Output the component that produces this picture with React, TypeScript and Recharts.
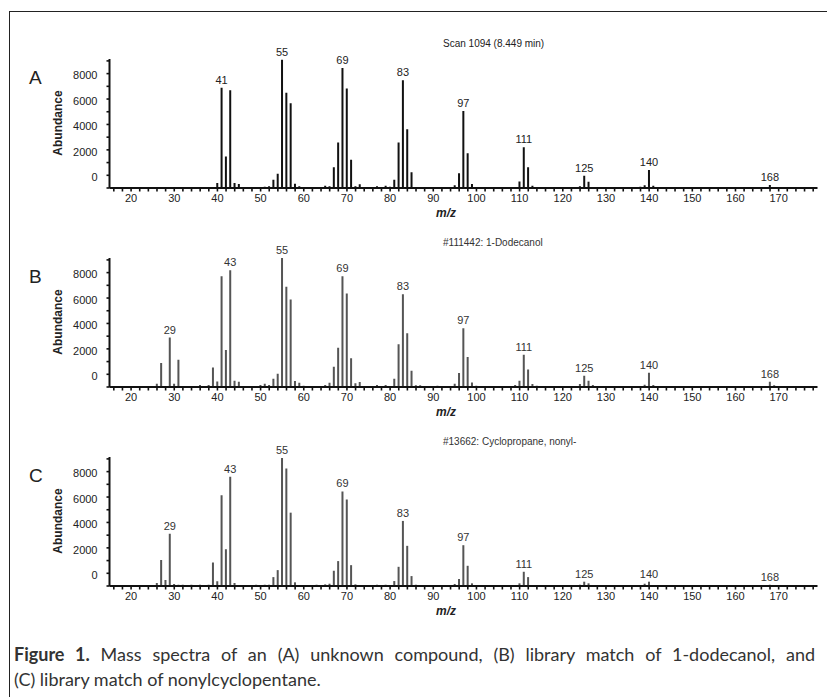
import React from 'react';
import { BarChart, Bar, XAxis, YAxis, LabelList } from 'recharts';

// Panel A: unknown compound (Scan 1094)
const mzA = [40, 41, 42, 43, 44, 45, 51, 52, 53, 54, 55, 56, 57, 58, 59, 65, 66, 67, 68, 69, 70, 71, 72, 73, 74, 77, 78, 79, 80, 81, 82, 83, 84, 85, 86, 87, 91, 93, 94, 95, 96, 97, 98, 99, 100, 109, 110, 111, 112, 113, 124, 125, 126, 127, 128, 138, 139, 140, 141, 168, 169];
const abA = [390, 7880, 2480, 7700, 390, 310, 100, 130, 650, 1120, 10100, 7490, 6660, 340, 130, 180, 130, 1640, 3580, 9450, 7830, 2220, 130, 290, 80, 130, 80, 180, 100, 650, 3580, 8480, 4620, 1230, 80, 80, 60, 80, 60, 210, 1170, 6060, 2740, 310, 80, 80, 520, 3210, 1640, 180, 130, 970, 500, 80, 60, 100, 210, 1410, 180, 235, 80];
const peaksA = [41, 55, 69, 83, 97, 111, 125, 140, 168];

// Panel B: 1-dodecanol library spectrum
const mzB = [26, 27, 29, 30, 31, 36, 38, 39, 40, 41, 42, 43, 44, 45, 50, 51, 52, 53, 54, 55, 56, 57, 58, 59, 60, 65, 66, 67, 68, 69, 70, 71, 72, 73, 77, 79, 81, 82, 83, 84, 85, 86, 87, 91, 95, 96, 97, 98, 99, 100, 109, 110, 111, 112, 113, 114, 124, 125, 126, 127, 139, 140, 141, 168, 169];
const abB = [260, 1880, 3890, 260, 2140, 150, 150, 1540, 440, 8720, 2920, 9190, 500, 420, 150, 260, 150, 650, 1040, 10150, 7880, 6890, 470, 340, 100, 150, 340, 1590, 3080, 8720, 7360, 2270, 290, 390, 150, 150, 650, 3370, 7300, 4230, 1280, 130, 130, 100, 260, 1100, 4620, 2370, 360, 100, 150, 490, 2530, 1380, 230, 100, 230, 890, 490, 150, 180, 1120, 150, 420, 130];
const peaksB = [29, 43, 55, 69, 83, 97, 111, 125, 140, 168];

// Panel C: nonyl-cyclopropane library spectrum
const mzC = [26, 27, 28, 29, 30, 31, 32, 33, 34, 35, 36, 37, 38, 39, 40, 41, 42, 43, 44, 48, 49, 50, 51, 52, 53, 54, 55, 56, 57, 58, 62, 63, 64, 65, 66, 67, 68, 69, 70, 71, 72, 77, 79, 81, 82, 83, 84, 85, 86, 91, 95, 96, 97, 98, 99, 110, 111, 112, 113, 124, 125, 126, 127, 139, 140, 141, 168, 169];
const abC = [230, 2040, 470, 4120, 160, 100, 100, 80, 100, 80, 100, 80, 100, 1850, 370, 7150, 2900, 8590, 230, 80, 100, 80, 100, 100, 700, 1250, 10070, 9240, 5770, 290, 80, 100, 80, 130, 180, 1200, 1960, 7440, 6810, 1640, 130, 100, 100, 390, 1510, 5120, 3160, 780, 100, 80, 160, 550, 3210, 1590, 210, 210, 1120, 700, 80, 100, 340, 210, 80, 180, 340, 80, 100, 60];
const peaksC = [29, 43, 55, 69, 83, 97, 111, 125, 140, 168];

const yLabels = [0, 2000, 4000, 6000, 8000];
const xLabels = [20, 30, 40, 50, 60, 70, 80, 90, 100, 110, 120, 130, 140, 150, 160, 170];

const yTicks: number[] = [];
for (let v = 0; v <= 10000; v += 1000) yTicks.push(v);
const xTicks: number[] = [];
for (let v = 16; v <= 178; v += 2) xTicks.push(v);

const FONT = 'Liberation Sans, Arial, sans-serif';
const CAPTION_FONT = 'Lato, "Open Sans", sans-serif';

const XTick = (props: any) => {
  const { x, y, payload } = props;
  const v = payload.value;
  return (
    <g>
      <line x1={x} x2={x} y1={y} y2={y + 3.5} stroke="#111" strokeWidth={1.6} />
      {xLabels.includes(v) && (
        <text x={x} y={y + 13.5} textAnchor="middle" fontSize={11} fill="#222" fontFamily={FONT}>
          {v}
        </text>
      )}
    </g>
  );
};

const YTick = (props: any) => {
  const { x, y, payload } = props;
  const v = payload.value;
  return (
    <g>
      <line x1={x - 3} x2={x} y1={y} y2={y} stroke="#111" strokeWidth={1.6} />
      {yLabels.includes(v) && (
        <text x={x - 12} y={y - 7} textAnchor="end" fontSize={11} fill="#222" fontFamily={FONT}>
          {v}
        </text>
      )}
    </g>
  );
};

interface PanelProps {
  top: number;
  letter: string;
  title: string;
  mz: number[];
  ab: number[];
  peaks: number[];
  color: string;
  textColor: string;
}

const Panel: React.FC<PanelProps> = ({ top, letter, title, mz, ab, peaks, color, textColor }) => {
  const data = mz.map((m, i) => ({ mz: m, ab: ab[i], label: peaks.includes(m) ? String(m) : '' }));
  const plotTop = top + 20;
  return (
    <>
      <div style={{ position: 'absolute', left: 0, top }}>
        <BarChart width={827} height={189} data={data} margin={{ top: 20, right: 9.5, bottom: 10, left: 49.5 }}>
          <XAxis
            dataKey="mz"
            type="number"
            domain={[15, 179]}
            ticks={xTicks}
            interval={0}
            tickSize={0}
            tickMargin={0}
            tickLine={false}
            tick={<XTick />}
            height={30}
            axisLine={{ stroke: '#111', strokeWidth: 2 }}
            allowDataOverflow
          />
          <YAxis
            type="number"
            domain={[0, 10150]}
            ticks={yTicks}
            interval={0}
            tickSize={0}
            tickMargin={0}
            tickLine={false}
            tick={<YTick />}
            width={60}
            axisLine={{ stroke: '#111', strokeWidth: 2 }}
            allowDataOverflow
          />
          <Bar dataKey="ab" fill={color} barSize={2} isAnimationActive={false}>
            <LabelList dataKey="label" position="top" offset={4} fontSize={11} fill={textColor} fontFamily={FONT} />
          </Bar>
        </BarChart>
      </div>
      <div style={{ position: 'absolute', left: 29, top: plotTop + 8, fontSize: 19, fontFamily: FONT, color: '#222', lineHeight: '22px' }}>
        {letter}
      </div>
      <div style={{ position: 'absolute', left: 443, top: plotTop - 21, fontSize: 10, fontFamily: FONT, color: textColor, whiteSpace: 'nowrap' }}>
        {title}
      </div>
      <div
        style={{
          position: 'absolute',
          left: 58 - 40,
          top: plotTop + 64 - 8,
          width: 80,
          height: 16,
          lineHeight: '16px',
          textAlign: 'center',
          transform: 'rotate(-90deg)',
          fontSize: 12,
          fontWeight: 'bold',
          fontFamily: FONT,
          color: '#222',
        }}
      >
        Abundance
      </div>
      <div
        style={{
          position: 'absolute',
          left: 436,
          top: plotTop + 129 + 18,
          fontSize: 12,
          fontWeight: 'bold',
          fontStyle: 'italic',
          fontFamily: FONT,
          color: '#222',
        }}
      >
        m/z
      </div>
    </>
  );
};

const App: React.FC = () => {
  const captionLine: React.CSSProperties = {
    position: 'absolute',
    left: 14,
    width: 801,
    fontSize: 18,
    lineHeight: '25px',
    fontFamily: CAPTION_FONT,
    color: '#333',
    whiteSpace: 'nowrap',
  };
  return (
    <div style={{ position: 'absolute', left: 0, top: 0, width: 827, height: 697, overflow: 'hidden', background: '#fff' }}>
      <div style={{ position: 'absolute', left: 9, top: 11, width: 900, height: 800, border: '1.5px solid #222' }} />
      <Panel top={39} letter="A" title="Scan 1094 (8.449 min)" mz={mzA} ab={abA} peaks={peaksA} color="#111" textColor="#222" />
      <Panel top={238} letter="B" title="#111442: 1-Dodecanol" mz={mzB} ab={abB} peaks={peaksB} color="#555" textColor="#333" />
      <Panel top={437} letter="C" title="#13662: Cyclopropane, nonyl-" mz={mzC} ab={abC} peaks={peaksC} color="#555" textColor="#333" />
      <div style={{ ...captionLine, top: 642, whiteSpace: 'normal', textAlign: 'justify', textAlignLast: 'justify' }}>
        <b>Figure 1.</b> Mass spectra of an (A) unknown compound, (B) library match of 1-dodecanol, and
      </div>
      <div style={{ ...captionLine, top: 667 }}>(C) library match of nonylcyclopentane.</div>
    </div>
  );
};

export default App;
